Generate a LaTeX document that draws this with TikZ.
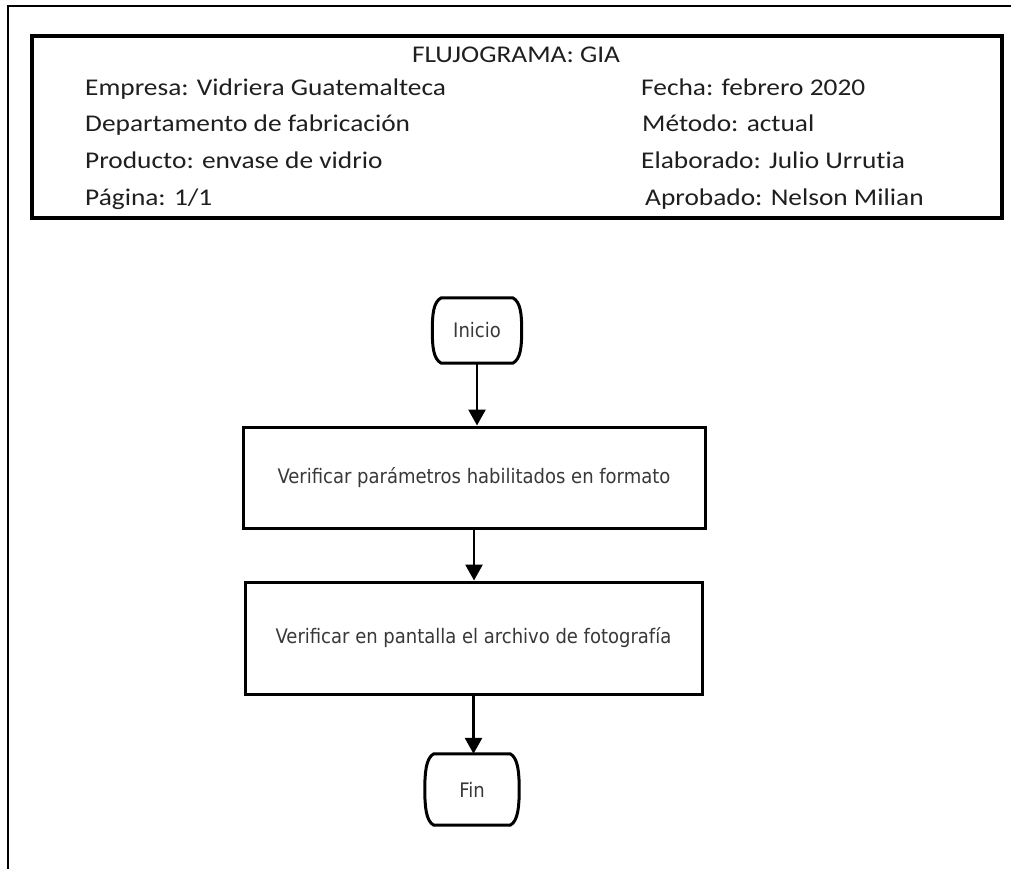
\documentclass[tikz,border=0pt]{standalone}
\usepackage{fontspec}
\setmainfont{Carlito}[FakeStretch=1.14, RawFeature=-liga]
\newfontfamily\flowfont{DejaVu Sans Condensed}
\usetikzlibrary{arrows.meta,calc}

% outline of a terminal (start/end) symbol: flat top and bottom, bulging sides
\newcommand{\termoutline}[1]{%
  \draw[termline]
    ($(#1.north west)+(9,0)$) -- ($(#1.north east)+(-9,0)$)
    .. controls ($(#1.north east)+(-1,4)$) and ($(#1.east)+(0,-16)$) .. (#1.east)
    .. controls ($(#1.east)+(0,16)$) and ($(#1.south east)+(-1,-4)$) .. ($(#1.south east)+(-9,0)$)
    -- ($(#1.south west)+(9,0)$)
    .. controls ($(#1.south west)+(1,-4)$) and ($(#1.west)+(0,16)$) .. (#1.west)
    .. controls ($(#1.west)+(0,-16)$) and ($(#1.north west)+(1,4)$) .. cycle;}

\begin{document}
\begin{tikzpicture}[x=1pt,y=-1pt,
  hdr/.style={anchor=base west, inner sep=0pt, font=\fontsize{24}{27}\selectfont, text=black!88},
  proc/.style={draw, line width=3pt, inner sep=0pt,
    font=\flowfont\fontsize{20}{24}\selectfont, text=black!78},
  term/.style={inner sep=0pt, font=\flowfont\fontsize{20}{24}\selectfont, text=black!78},
  termline/.style={line width=3pt, line join=round},
  link/.style={line width=2.8pt, -{Triangle[width=17pt,length=16pt]}}
]
\useasboundingbox (0,0) rectangle (1011,869);

% page frame
\draw[line width=2.5pt] (8,869) -- (8,6) -- (1011,6);

% header block
\draw[line width=3.5pt] (32,36) rectangle (1002,218);
\node[hdr, anchor=base] (title) at (516,63) {FLUJOGRAMA: GIA};
\node[hdr] (emp)   at (85,96)  {Empresa: Vidriera Guatemalteca};
\node[hdr] (dep)   at (85,132) {Departamento de fabricación};
\node[hdr] (prod)  at (85,168) {Producto: envase de vidrio};
\node[hdr] (pag)   at (85,205) {Página: 1/1};
\node[hdr] (fecha) at (641,96)  {Fecha: febrero 2020};
\node[hdr] (met)   at (642,132) {Método: actual};
\node[hdr] (elab)  at (641,168) {Elaborado: Julio Urrutia};
\node[hdr] (apr)   at (645,205) {Aprobado: Nelson Milian};

% flowchart
\node[term, minimum width=89pt, minimum height=65pt] (ini) at (477,330.5) {Inicio};
\node[proc, minimum width=462pt, minimum height=101pt] (p1) at (474,477.5)
  {Verificar parámetros habilitados en formato};
\node[proc, minimum width=457pt, minimum height=112pt] (p2) at (473.5,638)
  {Verificar en pantalla el archivo de fotografía};
\node[term, minimum width=94pt, minimum height=71pt] (fin) at (472,789.5) {Fin};

\termoutline{ini}
\termoutline{fin}

\draw[link] (ini.south) -- (ini.south |- p1.north);
\draw[link] (p1.south) -- (p1.south |- p2.north);
\draw[link] (p2.south) -- (p2.south |- fin.north);
\end{tikzpicture}
\end{document}
